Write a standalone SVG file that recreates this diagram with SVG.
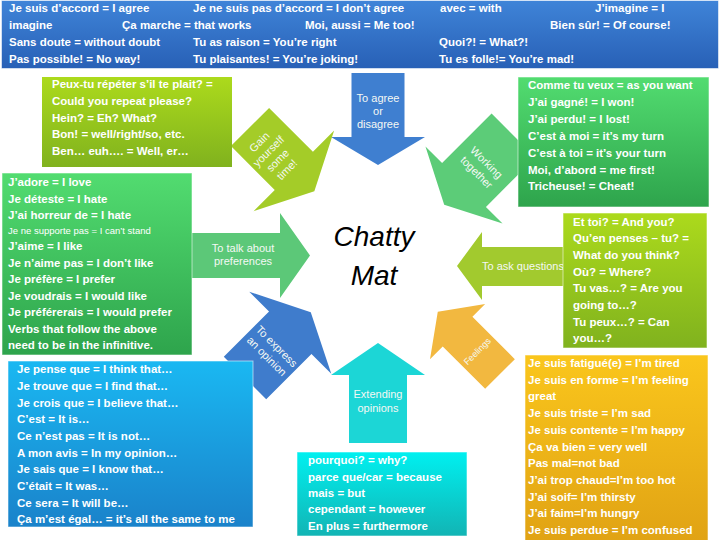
<svg xmlns="http://www.w3.org/2000/svg" width="720" height="540" viewBox="0 0 720 540">
<defs>
  <linearGradient id="gBanner" x1="0" y1="0" x2="0" y2="1"><stop offset="0" stop-color="#3f84d8"/><stop offset="1" stop-color="#2860b6"/></linearGradient>
  <linearGradient id="gLime" x1="0" y1="0" x2="0" y2="1"><stop offset="0" stop-color="#acda1c"/><stop offset="1" stop-color="#80b21e"/></linearGradient>
  <linearGradient id="gGreen" x1="0" y1="0" x2="0" y2="1"><stop offset="0" stop-color="#52dc70"/><stop offset="1" stop-color="#2ea44c"/></linearGradient>
  <linearGradient id="gSky" x1="0" y1="0" x2="0" y2="1"><stop offset="0" stop-color="#1ab8f2"/><stop offset="1" stop-color="#1a82ca"/></linearGradient>
  <linearGradient id="gCyan" x1="0" y1="0" x2="0" y2="1"><stop offset="0" stop-color="#00f0f0"/><stop offset="1" stop-color="#12b4b4"/></linearGradient>
  <linearGradient id="gAmber" x1="0" y1="0" x2="0" y2="1"><stop offset="0" stop-color="#fac61c"/><stop offset="1" stop-color="#e0a214"/></linearGradient>
</defs>
<style>
  .t{font-family:"Liberation Sans",Arial,sans-serif;font-size:11.5px;font-weight:bold;fill:#ffffff}
  .s{font-family:"Liberation Sans",Arial,sans-serif;font-size:9.5px;fill:#ffffff}
  .a{font-family:"Liberation Sans",Arial,sans-serif;font-size:11px;fill:#f4f8f4;text-anchor:middle}
  .box{stroke:#ffffff;stroke-opacity:0.55;stroke-width:1}
  .title{font-family:"Liberation Sans",Arial,sans-serif;font-size:28px;font-style:italic;fill:#000000;text-anchor:middle}
</style>
<rect x="0" y="0" width="720" height="540" fill="#ffffff"/>

<g id="banner">
  <rect class="box" x="1.5" y="0.5" width="717" height="68" fill="url(#gBanner)"/>
  <text class="t" x="9" y="12">Je suis d’accord = I agree</text>
  <text class="t" x="193" y="12">Je ne suis pas d’accord = I don’t agree</text>
  <text class="t" x="440" y="12">avec = with</text>
  <text class="t" x="595" y="12">J’imagine = I</text>
  <text class="t" x="9" y="29">imagine</text>
  <text class="t" x="122" y="29">Ça marche = that works</text>
  <text class="t" x="305" y="29">Moi, aussi = Me too!</text>
  <text class="t" x="550" y="29">Bien sûr! = Of course!</text>
  <text class="t" x="9" y="46">Sans doute = without doubt</text>
  <text class="t" x="193" y="46">Tu as raison = You’re right</text>
  <text class="t" x="439" y="46">Quoi?! = What?!</text>
  <text class="t" x="9" y="63">Pas possible! = No way!</text>
  <text class="t" x="193" y="63">Tu plaisantes! = You’re joking!</text>
  <text class="t" x="439" y="63">Tu es folle!= You’re mad!</text>
</g>

<g id="connectors">
  <g id="arrow-agree" transform="translate(378,73)">
    <path d="M-26.5,0 H26.5 V64 H47 L0,92 L-47,64 H-26.5 Z" fill="#3f7fd0"/>
    <text class="a" x="0" y="29">To agree</text>
    <text class="a" x="0" y="42">or</text>
    <text class="a" x="0" y="55">disagree</text>
  </g>
  <g id="arrow-gain" transform="translate(250,127) rotate(-45)">
    <path d="M-27,0 H27 V62 H57 L0,91 L-57,62 H-27 Z" fill="#a4cc28"/>
    <text class="a" x="-4" y="21" fill="#eef6d8">Gain</text>
    <text class="a" x="-4" y="34" fill="#eef6d8">yourself</text>
    <text class="a" x="-4" y="47" fill="#eef6d8">some</text>
    <text class="a" x="-4" y="60" fill="#eef6d8">time!</text>
  </g>
  <g id="arrow-working" transform="translate(513.5,135.5) rotate(45)">
    <path d="M-31,0 H31 V70 H54.5 L0,98 L-54.5,70 H-31 Z" fill="#5ccc78"/>
    <text class="a" x="0" y="42">Working</text>
    <text class="a" x="0" y="56">together</text>
  </g>
  <g id="arrow-preferences">
    <path d="M180,233 H280 V213 L310,255.5 L280,298 V278 H180 Z" fill="#5cc878"/>
    <text class="a" x="243" y="252">To talk about</text>
    <text class="a" x="243" y="265">preferences</text>
  </g>
  <g id="arrow-questions">
    <path d="M580,247 H482 V232 L457,266 L482,300 V286 H580 Z" fill="#a2ca2e"/>
    <text class="a" x="482" y="270" style="text-anchor:start">To ask questions</text>
  </g>
  <g id="arrow-opinion" transform="translate(245,378) rotate(45)">
    <path d="M-30,0 V-64 H-58 L0,-93 L58,-64 H30 V0 Z" fill="#3f7ccc"/>
    <text class="a" x="0" y="-41">To express</text>
    <text class="a" x="0" y="-27">an opinion</text>
  </g>
  <g id="arrow-feelings" transform="translate(500,374) rotate(-45)">
    <path d="M-21,0 V-60 H-39 L0,-88 L39,-60 H21 V0 Z" fill="#f2b840"/>
    <text class="a" x="0" y="-29" style="font-size:9px">Feelings</text>
  </g>
  <g id="arrow-extending">
    <path d="M349,443 V375 H331 L378,343 L425,375 H407 V443 Z" fill="#1cd6d6"/>
    <text class="a" x="378" y="398" fill="#eaffff">Extending</text>
    <text class="a" x="378" y="412" fill="#eaffff">opinions</text>
  </g>
</g>

<g id="title">
  <text class="title" x="374" y="246">Chatty</text>
  <text class="title" x="374" y="285">Mat</text>
</g>

<g id="box-time">
  <rect x="42" y="77" width="190" height="90" fill="url(#gLime)"/>
  <text class="t" x="52" y="88">Peux-tu répéter s’il te plait? =</text>
  <text class="t" x="52" y="105">Could you repeat please?</text>
  <text class="t" x="52" y="122">Hein? = Eh? What?</text>
  <text class="t" x="52" y="138">Bon! = well/right/so, etc.</text>
  <text class="t" x="52" y="155">Ben… euh…. = Well, er…</text>
</g>

<g id="box-preferences">
  <rect class="box" x="2" y="173" width="190" height="182" fill="url(#gGreen)"/>
  <text class="t" x="8" y="186">J’adore = I love</text>
  <text class="t" x="8" y="202.5">Je déteste = I hate</text>
  <text class="t" x="8" y="219">J’ai horreur de = I hate</text>
  <text class="s" x="8" y="234">Je ne supporte pas = I can’t stand</text>
  <text class="t" x="8" y="250">J’aime = I like</text>
  <text class="t" x="8" y="266.5">Je n’aime pas = I don’t like</text>
  <text class="t" x="8" y="283">Je préfère = I prefer</text>
  <text class="t" x="8" y="299.5">Je voudrais = I would like</text>
  <text class="t" x="8" y="316">Je préférerais = I would prefer</text>
  <text class="t" x="8" y="332.5">Verbs that follow the above</text>
  <text class="t" x="8" y="349">need to be in the infinitive.</text>
</g>

<g id="box-opinion">
  <rect class="box" x="8" y="361" width="245" height="166" fill="url(#gSky)"/>
  <text class="t" x="17" y="373">Je pense que = I think that…</text>
  <text class="t" x="17" y="390">Je trouve que = I find that…</text>
  <text class="t" x="17" y="407">Je crois que = I believe that…</text>
  <text class="t" x="17" y="423">C’est = It is…</text>
  <text class="t" x="17" y="440">Ce n’est pas = It is not…</text>
  <text class="t" x="17" y="457">A mon avis = In my opinion…</text>
  <text class="t" x="17" y="473">Je sais que = I know that…</text>
  <text class="t" x="17" y="490">C’était = It was…</text>
  <text class="t" x="17" y="507">Ce sera = It will be…</text>
  <text class="t" x="17" y="523">Ça m’est égal… = it’s all the same to me</text>
</g>

<g id="box-extending">
  <rect class="box" x="297" y="452" width="170" height="84" fill="url(#gCyan)"/>
  <text class="t" x="308" y="464">pourquoi? = why?</text>
  <text class="t" x="308" y="481">parce que/car = because</text>
  <text class="t" x="308" y="497">mais = but</text>
  <text class="t" x="308" y="513">cependant = however</text>
  <text class="t" x="308" y="530">En plus = furthermore</text>
</g>

<g id="box-working">
  <rect class="box" x="518" y="77" width="191" height="130" fill="url(#gGreen)"/>
  <text class="t" x="528" y="89">Comme tu veux = as you want</text>
  <text class="t" x="528" y="106">J’ai gagné! = I won!</text>
  <text class="t" x="528" y="123">J’ai perdu! = I lost!</text>
  <text class="t" x="528" y="140">C’est à moi = it’s my turn</text>
  <text class="t" x="528" y="157">C’est à toi = it’s your turn</text>
  <text class="t" x="528" y="174">Moi, d’abord = me first!</text>
  <text class="t" x="528" y="190">Tricheuse! = Cheat!</text>
</g>

<g id="box-questions">
  <rect class="box" x="563" y="213" width="144" height="135" fill="url(#gLime)"/>
  <text class="t" x="573" y="226">Et toi? = And you?</text>
  <text class="t" x="573" y="242">Qu’en penses – tu? =</text>
  <text class="t" x="573" y="259">What do you think?</text>
  <text class="t" x="573" y="276">Où? = Where?</text>
  <text class="t" x="573" y="292">Tu vas…? = Are you</text>
  <text class="t" x="573" y="309">going to…?</text>
  <text class="t" x="573" y="326">Tu peux…? = Can</text>
  <text class="t" x="573" y="342">you…?</text>
</g>

<g id="box-feelings">
  <rect class="box" x="525" y="355" width="183" height="190" fill="url(#gAmber)"/>
  <text class="t" x="528" y="367">Je suis fatigué(e) = I’m tired</text>
  <text class="t" x="528" y="384">Je suis en forme = I’m feeling</text>
  <text class="t" x="528" y="400">great</text>
  <text class="t" x="528" y="417">Je suis triste = I’m sad</text>
  <text class="t" x="528" y="434">Je suis contente = I’m happy</text>
  <text class="t" x="528" y="451">Ça va bien = very well</text>
  <text class="t" x="528" y="467">Pas mal=not bad</text>
  <text class="t" x="528" y="484">J’ai trop chaud=I’m too hot</text>
  <text class="t" x="528" y="501">J’ai soif= I’m thirsty</text>
  <text class="t" x="528" y="517">J’ai faim=I’m hungry</text>
  <text class="t" x="528" y="534">Je suis perdue = I’m confused</text>
</g>
</svg>
